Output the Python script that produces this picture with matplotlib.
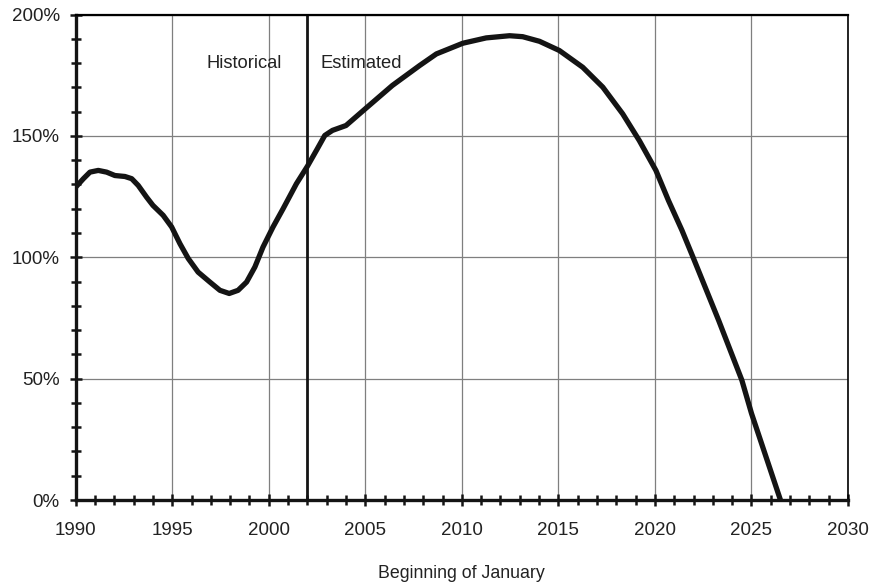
import numpy as np
import matplotlib.pyplot as plt
from matplotlib.ticker import MultipleLocator, FuncFormatter

plt.rcParams['font.family'] = ['Liberation Sans', 'DejaVu Sans']

# values (year, percent)
years = [1990.0, 1990.4, 1990.74, 1991.17, 1991.6, 1992.03, 1992.55, 1992.9,
         1993.24, 1993.67, 1994.0, 1994.53, 1994.97, 1995.4, 1995.83, 1996.34,
         1996.95, 1997.47, 1997.95, 1998.41, 1998.85, 1999.28, 1999.7, 2000.22,
         2000.74, 2001.43, 2002.0, 2002.5, 2002.9, 2003.3, 2004.0, 2005.0,
         2006.4, 2007.81, 2008.68, 2010.05, 2011.26, 2012.47, 2013.15, 2014.02,
         2015.05, 2016.26, 2017.3, 2018.33, 2019.19, 2020.05, 2020.7, 2021.4,
         2022.0, 2023.3, 2024.5, 2025.0, 2026.5]
ratio = [128.9, 132.4, 135.1, 135.8, 135.1, 133.7, 133.3, 132.4,
         129.6, 124.8, 121.4, 117.3, 112.5, 105.6, 99.5, 93.9,
         89.8, 86.4, 85.1, 86.4, 89.8, 96.0, 104.2, 112.5,
         120.0, 130.3, 137.5, 144.5, 150.2, 152.3, 154.3, 161.2,
         170.8, 179.0, 183.8, 188.2, 190.4, 191.3, 190.9, 189.0,
         185.2, 178.3, 170.1, 159.1, 148.1, 135.8, 123.4, 111.1,
         99.5, 74.0, 49.4, 35.7, 0.0]
split_year = 2002

fig = plt.figure(figsize=(8.73, 5.84), dpi=100)
ax = fig.add_axes([0.0867, 0.1438, 0.8847, 0.8312])

ax.plot(years, ratio, color='#141414', lw=3.8, solid_capstyle='butt',
        solid_joinstyle='round', zorder=3)
ax.axvline(split_year, color='#141414', lw=2.0, zorder=2)

ax.set_xlim(1990, 2030)
ax.set_ylim(0, 200)
ax.xaxis.set_major_locator(MultipleLocator(5))
ax.xaxis.set_minor_locator(MultipleLocator(1))
ax.yaxis.set_major_locator(MultipleLocator(50))
ax.yaxis.set_minor_locator(MultipleLocator(10))
ax.yaxis.set_major_formatter(FuncFormatter(lambda v, p: '%d%%' % v))

ax.grid(True, which='major', color='#7f7f7f', lw=0.9)
ax.set_axisbelow(True)

ax.tick_params(which='major', direction='inout', length=9, width=1.8,
               color='#141414', labelsize=13.5, labelcolor='#222222')
ax.tick_params(which='minor', direction='inout', length=7, width=1.8,
               color='#141414')
ax.tick_params(axis='x', which='major', pad=11)
ax.tick_params(axis='y', which='major', pad=7)

for side in ['left', 'bottom']:
    ax.spines[side].set_linewidth(2.4)
    ax.spines[side].set_color('#141414')
ax.spines['top'].set_linewidth(1.6)
ax.spines['right'].set_linewidth(1.2)

ax.text(2000.7, 180, 'Historical', ha='right', va='center', fontsize=13.2,
        color='#222222')
ax.text(2002.7, 180, 'Estimated', ha='left', va='center', fontsize=13.2,
        color='#222222')

ax.set_xlabel('Beginning of January', fontsize=12.8, color='#222222', labelpad=19)

fig.savefig('out.png', dpi=100)
